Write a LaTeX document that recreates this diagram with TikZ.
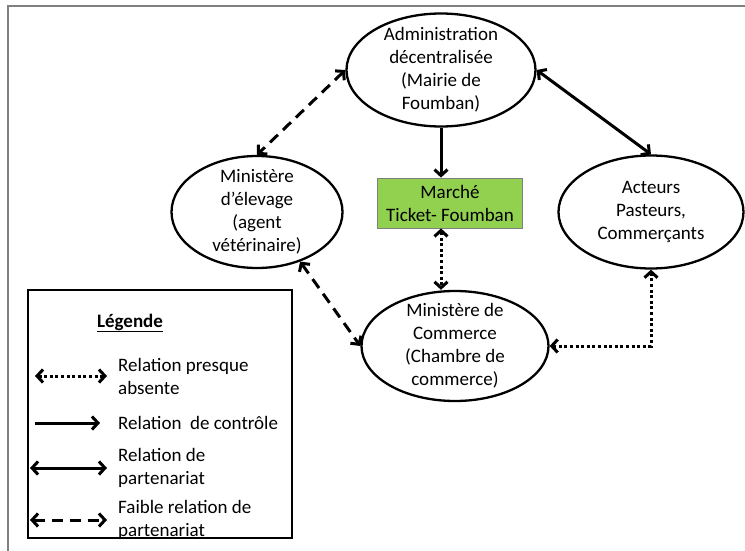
\documentclass[tikz,border=0pt]{standalone}
\usepackage{fontspec}
\setmainfont{Carlito}
\usetikzlibrary{arrows.meta,shapes.geometric}
\definecolor{vertmarche}{HTML}{92D050}
\definecolor{cadre}{HTML}{808080}

\begin{document}
\begin{tikzpicture}[x=1pt,y=-1pt,
    font=\fontsize{19}{23}\selectfont,
    acteur/.style={ellipse,draw,line width=2.3pt,inner sep=-6pt,align=center},
    lien/.style={line width=3pt,{Straight Barb[length=6pt,width=13pt]}-{Straight Barb[length=6pt,width=13pt]}},
    controle/.style={line width=3pt,-{Straight Barb[length=6pt,width=13pt]}},
    faible/.style={lien,dash pattern=on 11pt off 7pt},
    absente/.style={lien,dash pattern=on 3pt off 2.6pt}]
      \useasboundingbox (0,0) rectangle (745,551);

      % Cadre de la figure
      \draw[cadre,line width=2pt] (745,6) -- (8,6) -- (8,551);

      % Les acteurs
      \node[acteur,minimum width=189pt,minimum height=113pt] (admin) at (441,70)
          {Administration\\décentralisée\\(Mairie de\\Foumban)};
      \node[acteur,minimum width=171pt,minimum height=112pt] (elevage) at (257,212)
          {Ministère\\d’élevage\\(agent\\vétérinaire)};
      \node[acteur,minimum width=185pt,minimum height=113pt] (acteurs) at (651,212)
          {Acteurs\\Pasteurs,\\Commerçants};
      \node[acteur,minimum width=187pt,minimum height=110pt] (commerce) at (455,346)
          {Ministère de\\Commerce\\(Chambre de\\commerce)};
      \node[draw=cadre,fill=vertmarche,line width=0.8pt,minimum width=145pt,
          minimum height=50pt,align=center] (marche) at (450,203)
          {Marché\\Ticket- Foumban};

      % Les relations
      \draw[controle] (admin.south) -- (marche.north -| admin.south);
      \draw[lien] (admin.east) -- (acteurs.north);
      \draw[faible] (admin.west) -- (elevage.north);
      \draw[faible] (elevage.-49) -- (commerce.west);
      \draw[absente] (marche.south -| admin.south) -- (commerce.north -| admin.south);
      \draw[absente] (commerce.east) -| (acteurs.south);

      % Legende
      \node[draw,line width=1.8pt,minimum width=264pt,minimum height=248pt] (legende) at (160,414) {};
      \node[font=\fontsize{19}{23}\selectfont\bfseries] (titre) at (130,323) {\underline{Légende}};
      \foreach \i/\y/\s/\xa/\xb/\txt in {1/376/absente/35/107/{Relation presque\\absente},
          2/423/controle/35/100/{Relation\ \ de contrôle},
          3/468/lien/30/107/{Relation de\\partenariat},
          4/520/faible/30/107/{Faible relation de\\partenariat}} {
          \coordinate (g\i) at (\xa,\y);
          \coordinate (d\i) at (\xb,\y);
          \draw[\s] (g\i) -- (d\i);
          \node[anchor=west,align=left,inner sep=0pt] (texte\i) at (118,\y) {\txt};
      }
    \end{tikzpicture}
\end{document}
